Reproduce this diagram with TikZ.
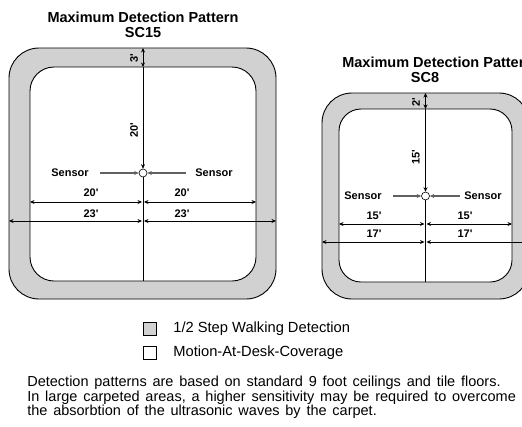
\documentclass[tikz,border=0pt]{standalone}
\usepackage{fontspec}
\setmainfont{Liberation Sans}[Ligatures=TeXOff]
\usetikzlibrary{arrows.meta}
\definecolor{zonegray}{rgb}{0.82,0.82,0.82}
\definecolor{arrowgray}{rgb}{0.38,0.38,0.38}
\newcommand{\notetextfont}{\fontsize{14.5}{14.3}\selectfont\spaceskip=5.8pt plus 1pt minus 1pt\relax}

\begin{document}
\begin{tikzpicture}[%
  >={Stealth[length=4.5pt,width=4pt]},
  x=1pt, y=-1pt,
  line width=0.7pt,
  zone/.style={draw=black, fill=zonegray, line width=0.9pt},
  desk/.style={draw=black, fill=white, line width=0.9pt},
  dimlabel/.style={font=\bfseries\fontsize{11}{12}\selectfont, inner sep=0pt},
  titlelabel/.style={font=\bfseries\fontsize{14.5}{15}\selectfont, inner sep=0pt},
  sensor/.style={circle, draw=black, fill=white, line width=0.6pt, minimum size=8pt, inner sep=0pt},
  pointer/.style={->, arrowgray, line width=1.1pt},
  legendbox/.style={draw=black, line width=0.7pt, minimum width=13.5pt, minimum height=12.8pt, inner sep=0pt},
  legendtext/.style={font=\fontsize{14.7}{15}\selectfont, anchor=west, inner sep=0pt},
]
  \useasboundingbox (0,0) rectangle (522,426);

  % SC15 pattern
  \node[titlelabel] (title15) at (143,17) {Maximum Detection Pattern};
  \node[titlelabel] (name15) at (143,33) {SC15};

  \draw[zone, rounded corners=30pt] (9,48) rectangle (276,299);
  \draw[desk, rounded corners=24pt] (30,67) rectangle (256,281);

  \coordinate (top15) at (143,48);
  \coordinate (in15) at (143,67);
  \coordinate (bot15) at (143,281);
  \node[sensor] (s15) at (143,173) {};

  \draw[<->] (top15) -- (in15);
  \draw[->] (in15) -- (s15.north);
  \draw (s15.south) -- (bot15);
  \node[dimlabel, rotate=90] (d3) at (134,58) {3'};
  \node[dimlabel, rotate=90] (d20v) at (134,130) {20'};

  \node[dimlabel] (sl15) at (70,173) {Sensor};
  \node[dimlabel] (sr15) at (214,173) {Sensor};
  \coordinate (pl15) at (100,173);
  \coordinate (pr15) at (186,173);
  \draw[pointer] (pl15) -- (s15.west);
  \draw[pointer] (pr15) -- (s15.east);

  \coordinate (a15) at (30,202);
  \coordinate (b15) at (142,202);
  \coordinate (c15) at (144,202);
  \coordinate (d15) at (256,202);
  \draw[<->] (a15) -- (b15);
  \draw[<->] (c15) -- (d15);
  \node[dimlabel] (l20a) at (91,193) {20'};
  \node[dimlabel] (l20b) at (182,193) {20'};

  \coordinate (e15) at (9,221);
  \coordinate (f15) at (142,221);
  \coordinate (g15) at (144,221);
  \coordinate (h15) at (276,221);
  \draw[<->] (e15) -- (f15);
  \draw[<->] (g15) -- (h15);
  \node[dimlabel] (l23a) at (91,214) {23'};
  \node[dimlabel] (l23b) at (182,214) {23'};

  % SC8 pattern
  \node[titlelabel, anchor=west] (title8) at (342,62) {Maximum Detection Pattern};
  \node[titlelabel] (name8) at (425,78) {SC8};

  \draw[zone, rounded corners=30pt] (322,93) rectangle (529,299);
  \draw[desk, rounded corners=22pt] (339,109) rectangle (512,282);

  \coordinate (top8) at (425.5,93);
  \coordinate (in8) at (425.5,109);
  \coordinate (bot8) at (425.5,282);
  \node[sensor] (s8) at (425.5,196) {};

  \draw[<->] (top8) -- (in8);
  \draw[->] (in8) -- (s8.north);
  \draw (s8.south) -- (bot8);
  \node[dimlabel, rotate=90] (d2) at (416,102) {2'};
  \node[dimlabel, rotate=90] (d15v) at (416,157) {15'};

  \node[dimlabel] (sl8) at (363,196) {Sensor};
  \node[dimlabel] (sr8) at (483,196) {Sensor};
  \coordinate (pl8) at (393,196);
  \coordinate (pr8) at (460,196);
  \draw[pointer] (pl8) -- (s8.west);
  \draw[pointer] (pr8) -- (s8.east);

  \coordinate (a8) at (339,224);
  \coordinate (b8) at (424.5,224);
  \coordinate (c8) at (426.5,224);
  \coordinate (d8) at (512,224);
  \draw[<->] (a8) -- (b8);
  \draw[<->] (c8) -- (d8);
  \node[dimlabel] (l15a) at (374,216) {15'};
  \node[dimlabel] (l15b) at (465,216) {15'};

  \coordinate (e8) at (322,242);
  \coordinate (f8) at (424.5,242);
  \coordinate (g8) at (426.5,242);
  \coordinate (h8) at (529,242);
  \draw[<->] (e8) -- (f8);
  \draw[<->] (g8) -- (h8);
  \node[dimlabel] (l17a) at (374,234) {17'};
  \node[dimlabel] (l17b) at (465,234) {17'};

  % legend
  \node[legendbox, fill=zonegray] (key1) at (150,328.6) {};
  \node[legendbox, fill=white] (key2) at (150,352.6) {};
  \node[legendtext] (txt1) at (173,328.6) {1/2 Step Walking Detection};
  \node[legendtext] (txt2) at (173,352.6) {Motion-At-Desk-Coverage};

  % note
  \node[anchor=north west, align=left, inner sep=0pt, font=\notetextfont]
    (note) at (27,376) {Detection patterns are based on standard 9 foot ceilings and tile floors.\\
    In large carpeted areas, a higher sensitivity may be required to overcome\\
    the absorbtion of the ultrasonic waves by the carpet.};

\end{tikzpicture}
\end{document}
